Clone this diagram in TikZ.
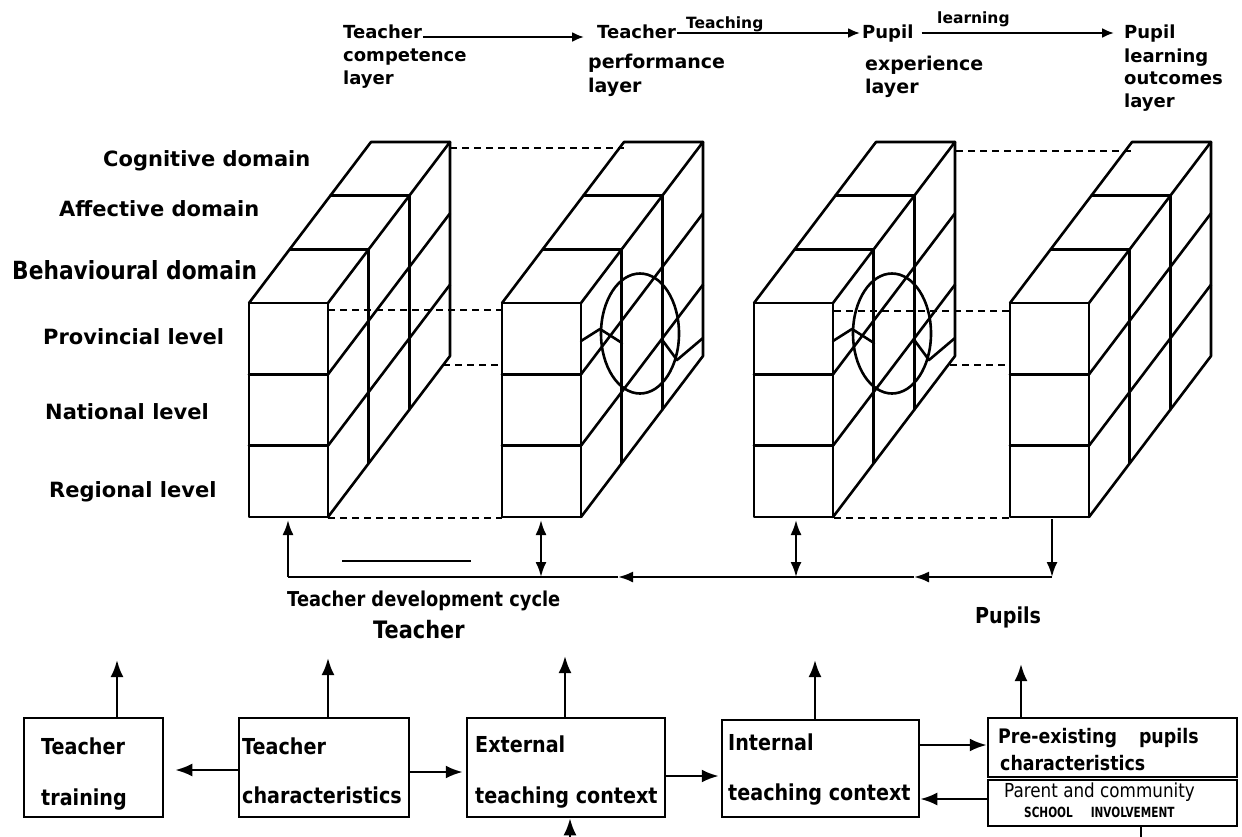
\documentclass[tikz,border=0pt]{standalone}
\usepackage{fontspec}
\setmainfont{DejaVu Sans}
\newfontfamily\narfont[FakeStretch=0.87]{DejaVu Sans}
\newfontfamily\nnarfont[FakeStretch=0.75]{DejaVu Sans}
\usetikzlibrary{arrows.meta,calc}
\tikzset{
  blk/.style={line width=2.6pt, line join=round, line cap=round},
  dsh/.style={line width=2pt, dash pattern=on 7pt off 5pt},
  arr/.style={line width=2.2pt, -{Latex[length=15pt,width=11pt]}},
  darr/.style={line width=2.2pt, {Latex[length=15pt,width=11pt]}-{Latex[length=15pt,width=11pt]}},
  sarr/.style={line width=2.2pt, -{Latex[length=12pt,width=10pt]}},
  barr/.style={line width=2.5pt, -{Latex[length=17pt,width=13pt]}},
  box/.style={draw, line width=2.5pt, inner sep=0pt},
  txt/.style={inner sep=0pt, anchor=base west},
  hd/.style={txt, font=\bfseries\fontsize{18}{22}\selectfont},
  hdb/.style={txt, font=\bfseries\fontsize{19}{23}\selectfont},
  lab/.style={txt, font=\bfseries\fontsize{15.5}{18}\selectfont},
  lbl/.style={txt, font=\bfseries\fontsize{21}{25}\selectfont},
  bt/.style={txt, font=\narfont\bfseries\fontsize{22}{26}\selectfont},
}
\begin{document}
\begin{tikzpicture}[x=1pt,y=-1pt]
\useasboundingbox[fill=white] (0,0) rectangle (1242,836);

% ---------- blocks ----------
\foreach \X in {249,502,754,1010} {
  \begin{scope}[shift={(\X,0)}, blk]
    \draw (0,303) rectangle (79,517);
    \draw (0,374.33) -- (79,374.33) (0,445.67) -- (79,445.67);
    \draw (0,303) -- (122,142) -- (201,142) -- (79,303);
    \draw (40.67,249.33) -- (119.67,249.33) (81.33,195.67) -- (160.33,195.67);
    \draw (201,142) -- (201,356) -- (79,517);
    \draw (119.67,249.33) -- (119.67,463.33) (160.33,195.67) -- (160.33,409.67);
    \draw (79,374.33) -- (201,213.33) (79,445.67) -- (201,284.67);
  \end{scope}
}
\foreach \X in {502,754} {
  \begin{scope}[shift={(\X,0)}, blk]
    \draw (138,333.5) ellipse [x radius=39pt, y radius=60pt];
    \draw (79,341) -- (98,329) -- (120,343);
    \draw (161,341) -- (175,360) -- (201,338);
  \end{scope}
}

% ---------- dashed connections ----------
\draw[dsh] (450,148) -- (624,148) (328,310) -- (502,310) (443,365) -- (502,365) (328,518) -- (502,518);
\draw[dsh] (956,151) -- (1132,151) (834,311) -- (1010,311) (950,365) -- (1010,365) (834,518) -- (1010,518);

% ---------- header ----------
\node[hd] (h1) at (343,38) {Teacher};
\node[hd] (h1b) at (343,61) {competence};
\node[hd] (h1c) at (343,84) {layer};
\node[hd] (h2) at (597,38) {Teacher};
\node[hdb] (h2b) at (588,68) {performance};
\node[hdb] (h2c) at (588,92) {layer};
\node[hd] (h3) at (862,38) {Pupil};
\node[hdb] (h3b) at (865,70) {experience};
\node[hdb] (h3c) at (865,93) {layer};
\node[hd] (h4) at (1124,38) {Pupil};
\node[hd] (h4b) at (1124,62) {learning};
\node[hd] (h4c) at (1124,84) {outcomes};
\node[hd] (h4d) at (1124,107) {layer};
\node[lab] (lt) at (686,28) {Teaching};
\node[lab] (ll) at (937,23) {learning};
\draw[sarr] ($(h1.base east)+(1,-1)$) -- ($(h2.base west)+(-13,-1)$);
\draw[sarr] ($(h2.base east)+(1,-5)$) -- ($(h3.base west)+(-2,-5)$);
\draw[sarr] ($(h3.base east)+(8,-5)$) -- ($(h4.base west)+(-10,-5)$);

% ---------- left labels ----------
\node[lbl] (cog) at (103,166) {Cognitive domain};
\node[lbl] (aff) at (59,216) {Affective domain};
\node[txt, font=\narfont\bfseries\fontsize{25}{30}\selectfont] (beh) at (12,279) {Behavioural domain};
\node[lbl] (prov) at (43,344) {Provincial level};
\node[lbl] (nat) at (45,419) {National level};
\node[lbl] (reg) at (49,497) {Regional level};

% ---------- feedback loop ----------
\coordinate (b1) at (288,520);
\coordinate (b2) at (541,520);
\coordinate (b3) at (796,520);
\coordinate (b4) at (1052,519);
\coordinate (l1) at (288,577);
\coordinate (l2) at (541,577);
\coordinate (l3) at (796,577);
\coordinate (l4) at (1052,577);
\coordinate (m1) at (618,577);
\coordinate (m2) at (914,577);
\draw[arr] (l1) -- (b1);
\draw[darr] (b2) -- (l2);
\draw[darr] (b3) -- (l3);
\draw[arr] (b4) -- (l4);
\draw[arr] (l4) -- (m2);
\draw[arr] (m2) -- (m1);
\draw[line width=2.2pt] (m1) -- (l1);
\draw[line width=2.5pt] (342,561) -- (471,561);

\node[txt, font=\narfont\bfseries\fontsize{20.5}{24}\selectfont] (tdc) at (287,606) {Teacher development cycle};
\node[txt, font=\narfont\bfseries\fontsize{24}{28}\selectfont] (tch) at (373,638) {Teacher};
\node[txt, font=\narfont\bfseries\fontsize{22}{26}\selectfont] (pup) at (975,623) {Pupils};

% ---------- bottom boxes ----------
\node[box, minimum width=139pt, minimum height=99pt] (tt) at (93.5,767.5) {};
\node[box, minimum width=170pt, minimum height=99pt] (tc) at (324,767.5) {};
\node[box, minimum width=198pt, minimum height=99pt] (ext) at (566,767.5) {};
\node[box, minimum width=197pt, minimum height=97pt] (int) at (820.5,768.5) {};
\node[box, minimum width=249pt, minimum height=59pt] (pre) at (1112.5,747.5) {};
\node[box, minimum width=249pt, minimum height=46pt] (par) at (1112.5,803) {};

\node[bt] (tt1) at (41,754) {Teacher};
\node[bt] (tt2) at (41,805) {training};
\node[bt] (tc1) at (242,754) {Teacher};
\node[bt] (tc2) at (242,803) {characteristics};
\node[bt] (ex1) at (475,752) {External};
\node[bt] (ex2) at (475,803) {teaching context};
\node[bt] (in1) at (728,750) {Internal};
\node[bt] (in2) at (728,800) {teaching context};
\node[txt, font=\narfont\bfseries\fontsize{20}{24}\selectfont] (pr1) at (998,743) {Pre-existing\hspace{22pt}pupils};
\node[txt, font=\narfont\bfseries\fontsize{20}{24}\selectfont] (pr2) at (1000,770) {characteristics};
\node[txt, font=\narfont\fontsize{19.3}{23}\selectfont] (pa1) at (1004,797) {Parent and community};
\node[txt, font=\nnarfont\bfseries\fontsize{14}{17}\selectfont] (pa2) at (1024,817) {SCHOOL\hspace{18pt}INVOLVEMENT};

% up arrows
\coordinate (u1) at (117,660);
\coordinate (u2) at (328,658);
\coordinate (u3) at (565,656);
\coordinate (u4) at (815,660);
\coordinate (u5) at (1021,664);
\draw[barr] (tt.north -| u1) -- (u1);
\draw[barr] (tc.north -| u2) -- (u2);
\draw[barr] (ext.north -| u3) -- (u3);
\draw[barr] (int.north -| u4) -- (u4);
\draw[barr] (pre.north -| u5) -- (u5);

% horizontal arrows
\draw[barr] ($(tc.west)+(0,2.5)$) -- ($(tt.east)+(11,2.5)$);
\draw[barr] ($(tc.east)+(0,4.5)$) -- ($(ext.west)+(-3,4.5)$);
\draw[barr] ($(ext.east)+(0,8.5)$) -- ($(int.west)+(-2,7.5)$);
\draw[barr] ($(int.east)+(0,-23.5)$) -- ($(pre.west)+(0,-2.5)$);
\draw[barr] ($(par.west)+(0,-4)$) -- ($(int.east)+(0,30.5)$);

% connector running below the picture edge
\coordinate (q1) at (1141,850);
\coordinate (q2) at (570,850);
\draw[barr] (par.south -| q1) -- (q1) -- (q2) -- (ext.south -| q2);
\end{tikzpicture}
\end{document}
